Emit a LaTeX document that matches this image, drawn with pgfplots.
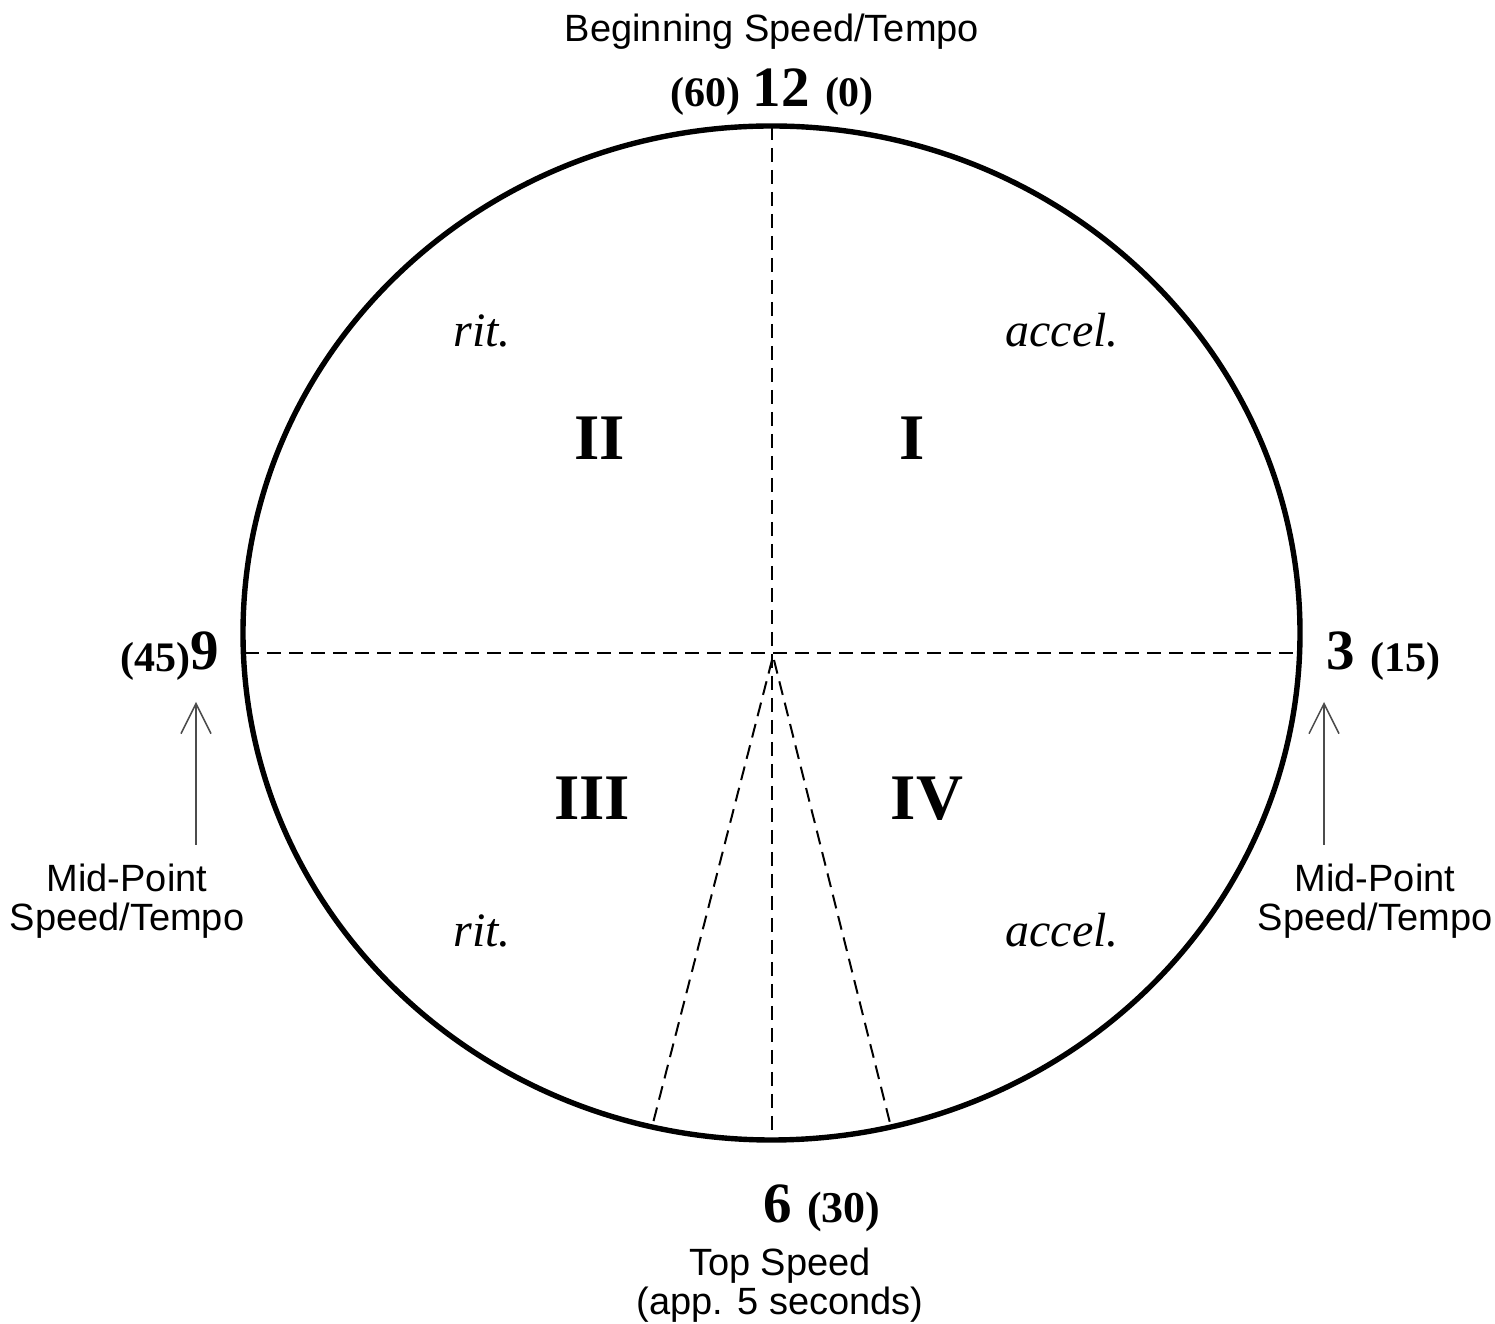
\documentclass[border=0pt]{standalone}
\usepackage{pgfplots}
\pgfplotsset{compat=1.18}
\usepackage{fontspec}
\setmainfont{Liberation Serif}
\setsansfont{Liberation Sans}
\usetikzlibrary{arrows.meta}
\newcommand{\fs}[1]{\fontsize{#1}{#1}\selectfont}
\begin{document}
\begin{tikzpicture}
\begin{axis}[width=747.5bp, height=662bp, scale only axis,
  xmin=0, xmax=1495, ymin=0, ymax=1324, hide axis, clip=false]
\path (axis cs:0,0) rectangle (axis cs:1495,1324);
% dashed guide lines
\addplot[black, line width=1bp, dash pattern=on 7bp off 4bp] coordinates {(772,1198) (772,184)};
\addplot[black, line width=1bp, dash pattern=on 7bp off 4bp] coordinates {(245,671) (1298,671)};
\addplot[black, line width=1bp, dash pattern=on 7bp off 4bp] coordinates {(772,664) (652,197)};
\addplot[black, line width=1bp, dash pattern=on 7bp off 4bp] coordinates {(774,664) (891,197)};
% ellipse
\draw[black, line width=2.7bp] (axis cs:771.5,691) ellipse [x radius=528.5, y radius=507];
% arrows
\addplot[black!70, line width=0.75bp, -{Straight Barb[length=15bp,width=15bp]}] coordinates {(196,479) (196,622)};
\addplot[black!70, line width=0.75bp, -{Straight Barb[length=15bp,width=15bp]}] coordinates {(1324,479) (1324,622)};
% labels
\begin{scope}[every node/.style={inner sep=0pt, outer sep=0pt}]
\node[anchor=base, font=\sffamily\fs{19bp}] at (axis cs:772,1282) {Beginning Speed/Tempo};
\node[anchor=base east, font=\bfseries\fs{21bp}] at (axis cs:740,1217) {(60)};
\node[anchor=base, font=\bfseries\fs{28.5bp}] at (axis cs:781,1217) {12};
\node[anchor=base west, font=\bfseries\fs{21bp}] at (axis cs:825,1217) {(0)};
\node[anchor=base east, font=\bfseries\fs{21bp}] at (axis cs:190,652) {(45)};
\node[anchor=base west, font=\bfseries\fs{28.5bp}] at (axis cs:190,654) {9};
\node[anchor=base west, font=\bfseries\fs{28.5bp}] at (axis cs:1326,654) {3};
\node[anchor=base west, font=\bfseries\fs{21bp}] at (axis cs:1370,652) {(15)};
\node[anchor=base west, font=\bfseries\fs{28.5bp}] at (axis cs:763,101) {6};
\node[anchor=base west, font=\bfseries\fs{22bp}] at (axis cs:807,101) {(30)};
\node[anchor=base, font=\sffamily\fs{19bp}] at (axis cs:780,49) {Top Speed};
\node[anchor=base, font=\sffamily\fs{19bp}] at (axis cs:780,10) {(app. 5 seconds)};
\node[anchor=base, font=\sffamily\fs{19bp}] at (axis cs:127,432) {Mid-Point};
\node[anchor=base, font=\sffamily\fs{19bp}] at (axis cs:127,393) {Speed/Tempo};
\node[anchor=base, font=\sffamily\fs{19bp}] at (axis cs:1375,432) {Mid-Point};
\node[anchor=base, font=\sffamily\fs{19bp}] at (axis cs:1375,393) {Speed/Tempo};
\node[anchor=base, font=\itshape\fs{24bp}] at (axis cs:482,977) {rit.};
\node[anchor=base, font=\itshape\fs{24bp}] at (axis cs:1062,977) {accel.};
\node[anchor=base, font=\itshape\fs{24bp}] at (axis cs:482,377) {rit.};
\node[anchor=base, font=\itshape\fs{24bp}] at (axis cs:1062,377) {accel.};
\node[anchor=base, font=\bfseries\fs{32.5bp}] at (axis cs:600,864) {II};
\node[anchor=base, font=\bfseries\fs{32.5bp}] at (axis cs:912,864) {I};
\node[anchor=base, font=\bfseries\fs{32.5bp}] at (axis cs:592,504) {III};
\node[anchor=base, font=\bfseries\fs{32.5bp}] at (axis cs:927,504) {IV};
\end{scope}
\end{axis}
\end{tikzpicture}
\end{document}
